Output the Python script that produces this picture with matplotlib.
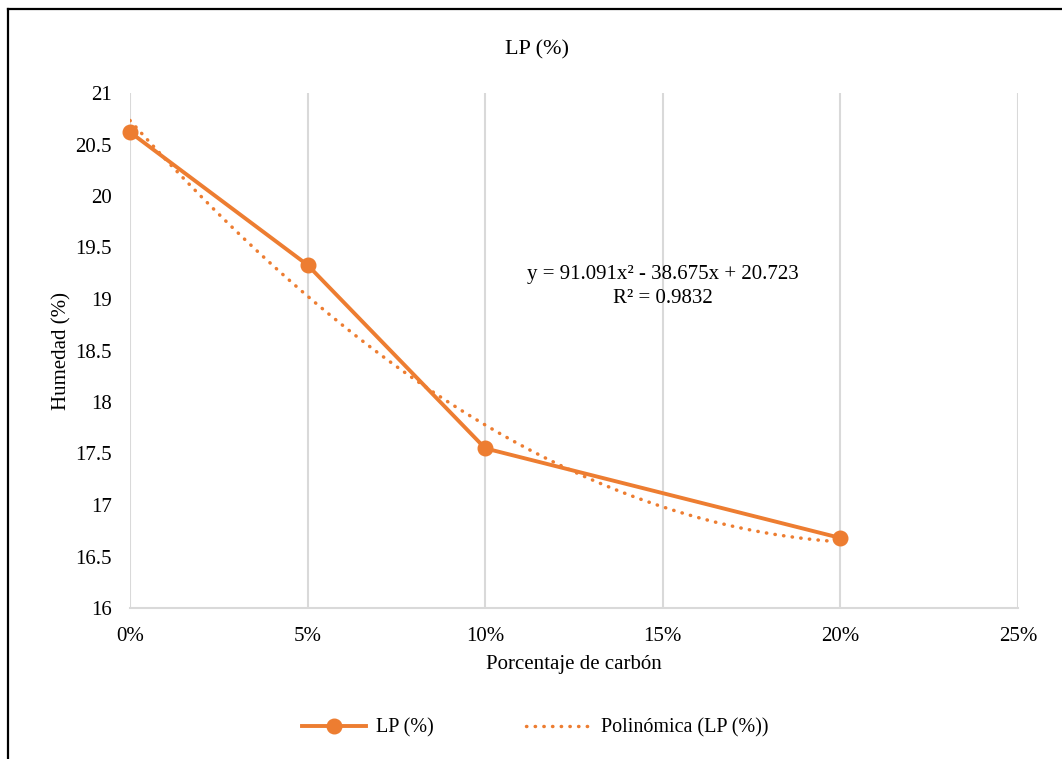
import numpy as np
import matplotlib
matplotlib.use("Agg")
import matplotlib.pyplot as plt
from matplotlib.lines import Line2D
from matplotlib.ticker import PercentFormatter

# data
carbon = [0.0, 0.05, 0.10, 0.20]
lp = [20.62, 19.33, 17.55, 16.68]
x_ticks = [0, 0.05, 0.10, 0.15, 0.20, 0.25]
y_ticks = [16, 16.5, 17, 17.5, 18, 18.5, 19, 19.5, 20, 20.5, 21]
eq_text = "y = 91.091x² - 38.675x + 20.723\nR² = 0.9832"

orange = "#ED7D31"
grid_col = "#D9D9D9"

plt.rcParams['font.family'] = ['Liberation Serif', 'DejaVu Serif']

fig = plt.figure(figsize=(10.62, 7.59), dpi=100)
ax = fig.add_axes([130/1062, 1 - 608/759, 888/1062, 515/759])

# polynomial trendline (2nd order) fitted to the points
coef = np.polyfit(carbon, lp, 2)
xs = np.linspace(0, 0.2, 200)
ax.plot(xs, np.polyval(coef, xs), color=orange, lw=2.5, linestyle=(0, (0.1, 2.4)),
        dash_capstyle='round', label="Polinómica (LP (%))", zorder=3)

ax.plot(carbon, lp, color=orange, lw=2.8, marker='o', markersize=10.5,
        label="LP (%)", zorder=4, clip_on=False)

ax.set_xlim(0, 0.25)
ax.set_ylim(16, 21)
ax.set_xticks(x_ticks)
ax.set_yticks(y_ticks)
ax.set_yticklabels([f"{v:g}" for v in y_ticks])
ax.xaxis.set_major_formatter(PercentFormatter(1.0, decimals=0))
ax.tick_params(length=0, labelsize=15)
ax.tick_params(axis='x', pad=14)
ax.tick_params(axis='y', pad=13)
ax.grid(axis='x', color=grid_col, lw=1.5)
ax.set_axisbelow(True)
for s in ['top', 'right', 'left']:
    ax.spines[s].set_visible(False)
ax.spines['bottom'].set_color(grid_col)
ax.spines['bottom'].set_linewidth(1.5)

ax.text(0.15, 19.12, eq_text, ha='center', va='center', fontsize=15, linespacing=1.35)

fig.text(537/1062, 1 - 50/759, "LP (%)", ha='center', va='center', fontsize=16)
ax.set_xlabel("Porcentaje de carbón", fontsize=15, labelpad=6)
ax.set_ylabel("Humedad (%)", fontsize=15, labelpad=3)

handles, labels = ax.get_legend_handles_labels()
fig.legend(handles[::-1], labels[::-1], loc='center', bbox_to_anchor=(535/1062, 1 - 728/759),
           ncol=2, frameon=False, fontsize=14.5, handlelength=3.2, handletextpad=0.5,
           columnspacing=4.6)

# outer frame (top and left edges visible)
fig.add_artist(Line2D([8/1062, 1], [1 - 9/759, 1 - 9/759], color='black', lw=1.6))
fig.add_artist(Line2D([8/1062, 8/1062], [0, 1 - 9/759], color='black', lw=1.6))

fig.savefig("out.png", dpi=100)
